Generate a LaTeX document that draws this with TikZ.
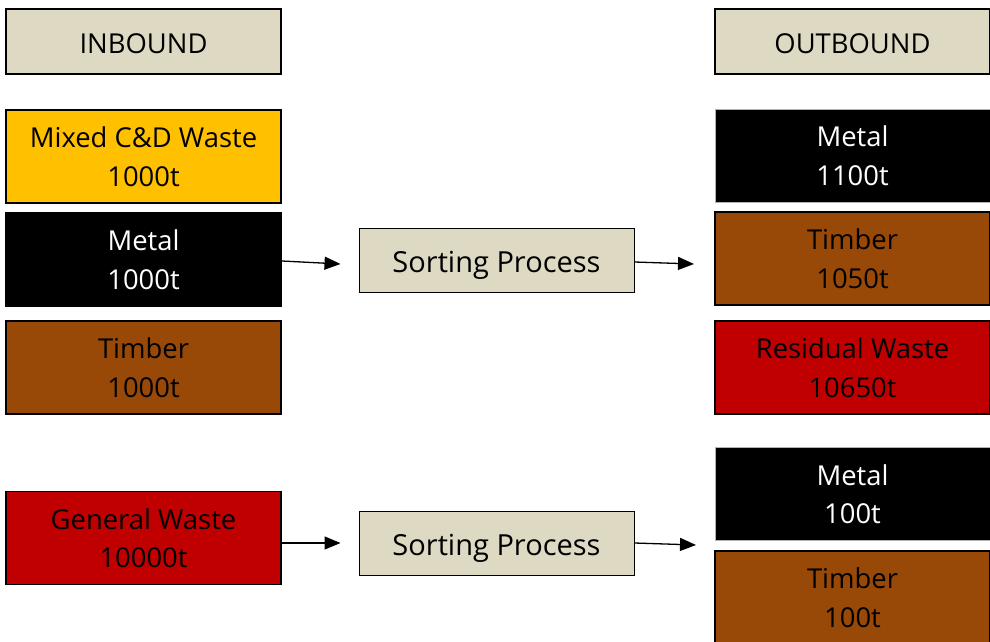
\documentclass[tikz,border=0pt]{standalone}
\usepackage{xcolor}
\usepackage{fontspec}
\setmainfont{Open Sans}
\usetikzlibrary{positioning,arrows.meta}
\definecolor{tan}{HTML}{DDD9C3}
\definecolor{mixed}{HTML}{FFC000}
\definecolor{wood}{HTML}{984807}
\definecolor{waste}{HTML}{C00000}

\begin{document}
\begin{tikzpicture}[x=1pt,y=-1pt,
  box/.style={draw=black, line width=1.6pt, minimum width=275pt, minimum height=93pt,
    align=center, inner sep=0pt, font=\fontsize{27.4}{38.5}\selectfont},
  head/.style={box, fill=tan, minimum height=65pt, text height=25pt, text depth=0pt},
  sortbox/.style={box, fill=tan, line width=1pt, minimum height=64pt,
    font=\fontsize{29}{38}\selectfont, text height=24pt, text depth=0pt},
  metalbox/.style={box, fill=black, draw=gray!60, line width=0.6pt, text=white},
  timberbox/.style={box, fill=wood},
  mixedbox/.style={box, fill=mixed},
  wastebox/.style={box, fill=waste},
  flow/.style={-{Triangle[length=16pt,width=13pt]}, line width=1.3pt}]
  \clip (0,0) rectangle (990,642);
  % headings
  \node[head] (inbound) at (143.5,41.5) {INBOUND};
  \node[head] (outbound) at (852.5,41.5) {OUTBOUND};
  % inbound loads
  \node[mixedbox] (mixedin) at (143.5,156.5) {Mixed C\&D Waste\\1000t};
  \node[metalbox, draw=black, line width=1.6pt] (metalin) at (143.5,259.5) {Metal\\1000t};
  \node[timberbox] (timberin) at (143.5,367.5) {Timber\\1000t};
  \node[wastebox] (generalin) at (143.5,538) {General Waste\\10000t};
  % sorting
  \node[sortbox] (sortA) at (496.5,260) {Sorting Process};
  \node[sortbox] (sortB) at (496.5,543) {Sorting Process};
  % outbound loads
  \node[metalbox] (metalout) at (852.5,155.5) {Metal\\1100t};
  \node[timberbox] (timberout) at (852.5,258.5) {Timber\\1050t};
  \node[wastebox] (residualout) at (852.5,367.5) {Residual Waste\\10650t};
  \node[metalbox] (metalgw) at (852.5,494) {Metal\\100t};
  \node[timberbox] (timbergw) at (852.5,597.5) {Timber\\100t};
  % arrows
  \coordinate (startA) at (282,261);
  \coordinate (endA) at (694,264);
  \coordinate (endB) at (696,545);
  \draw[flow] (startA) -- ([xshift=-18pt,yshift=-4pt]sortA.west);
  \draw[flow] ([yshift=-2pt]sortA.east) -- (endA);
  \draw[flow, shorten >=18pt] (generalin.east |- sortB) -- (sortB.west);
  \draw[flow] (sortB.east) -- (endB);
\end{tikzpicture}
\end{document}
